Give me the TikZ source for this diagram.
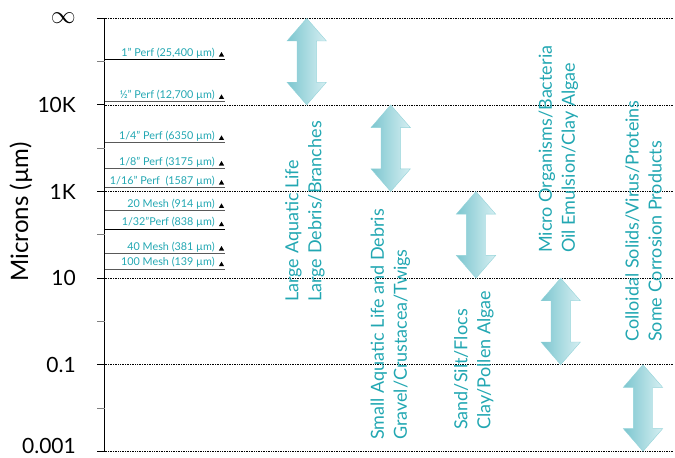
\documentclass[tikz,border=0pt]{standalone}
\usepackage{fontspec}
\setmainfont{Lato}
\usepackage{tikz}
\usetikzlibrary{positioning}
\usetikzlibrary{shapes,arrows}
\definecolor{tealtext}{HTML}{22A7B2}
\definecolor{arrowdark}{HTML}{7CC6CF}
\definecolor{arrowlight}{HTML}{D6EFF2}
\definecolor{arrowedge}{HTML}{93D3D9}
\tikzstyle{axisline} = [black, line width=1pt]
\tikzstyle{majortick} = [black, line width=1pt]
\tikzstyle{minortick} = [gray, line width=1pt]
\tikzstyle{gridline} = [densely dotted, black, line width=0.7pt]
\tikzstyle{perfline} = [gray!70!black, line width=1pt]
\tikzstyle{perflabel} = [tealtext, anchor=base east, inner sep=0pt, font=\fontsize{10.8}{11}\selectfont]
\tikzstyle{perftip} = [regular polygon, regular polygon sides=3, fill=black, inner sep=0pt, minimum size=6pt]
\tikzstyle{ticklabel} = [anchor=east, inner sep=0pt, font=\fontsize{21}{21}\selectfont]
\tikzstyle{rangearrow} = [double arrow, rotate=90, draw=arrowedge, left color=arrowdark, right color=arrowlight, inner xsep=0pt, inner ysep=9.5pt, minimum height=86.6pt, minimum width=39pt, double arrow head extend=10pt, double arrow tip angle=82]
\tikzstyle{rangelabel} = [tealtext, rotate=90, anchor=west, align=left, inner sep=0pt, font=\fontsize{18}{23}\selectfont]

\begin{document}
\begin{tikzpicture}[x=1pt, y=-1pt]
\useasboundingbox (0,0) rectangle (675,458);
%% axis
\coordinate (axtop) at (104.5,18.3);
\coordinate (axbot) at (104.5,451.3);
\draw[axisline] (axtop) -- (axbot);
\node[ticklabel, rotate=90, anchor=center, font=\fontsize{24}{24}\selectfont] (axtitle) at (21,212) {Microns (µm)};

%% major ticks, labels and grid
\draw[majortick] (97,18.3) -- (104.5,18.3);
\draw[majortick] (97,104.9) -- (104.5,104.9);
\draw[majortick] (97,191.5) -- (104.5,191.5);
\draw[majortick] (97,278.1) -- (104.5,278.1);
\draw[majortick] (97,364.7) -- (104.5,364.7);
\draw[majortick] (97,451.3) -- (104.5,451.3);
\node[ticklabel, font=\fontsize{27}{27}\selectfont] (tinf) at (76,18) {$\infty$};
\node[ticklabel] (t10k) at (76,104.9) {10K};
\node[ticklabel] (t1k) at (76,191.5) {1K};
\node[ticklabel] (t10) at (76,278.1) {10};
\node[ticklabel] (t01) at (76,364.7) {0.1};
\node[ticklabel] (t0001) at (76,446) {0.001};
\draw[gridline] (104.5,18.3) -- (673,18.3);
\draw[gridline] (104.5,104.9) -- (673,104.9);
\draw[gridline] (104.5,191.5) -- (673,191.5);
\draw[gridline] (104.5,278.1) -- (673,278.1);
\draw[gridline] (104.5,364.7) -- (673,364.7);
\draw[gridline] (104.5,451.3) -- (673,451.3);

%% minor ticks
\draw[minortick] (97,61.6) -- (104.5,61.6);
\draw[minortick] (97,148.2) -- (104.5,148.2);
\draw[minortick] (97,234.8) -- (104.5,234.8);
\draw[minortick] (97,321.4) -- (104.5,321.4);
\draw[minortick] (97,408) -- (104.5,408);

%% perforations and meshes
\draw[perfline, black] (104.5,59.3) -- (225,59.3);
\node[perflabel] (perf1) at (215,56) {1” Perf (25,400 µm)};
\node[perftip] (tip1) at (221.5,55) {};
\draw[perfline] (104.5,101.7) -- (225,101.7);
\node[perflabel] (perf2) at (215,98.4) {½” Perf (12,700 µm)};
\node[perftip] (tip2) at (221.5,97.4) {};
\draw[perfline] (104.5,142.7) -- (225,142.7);
\node[perflabel] (perf3) at (215,139.4) {1/4” Perf (6350 µm)};
\node[perftip] (tip3) at (221.5,138.4) {};
\draw[perfline] (104.5,168.3) -- (225,168.3);
\node[perflabel] (perf4) at (215,165) {1/8” Perf (3175 µm)};
\node[perftip] (tip4) at (221.5,164) {};
\draw[perfline] (104.5,187.3) -- (225,187.3);
\node[perflabel] (perf5) at (215,184) {1/16” Perf\ \ (1587 µm)};
\node[perftip] (tip5) at (221.5,183) {};
\draw[perfline] (104.5,210.7) -- (225,210.7);
\node[perflabel] (mesh1) at (215,207.4) {20 Mesh (914 µm)};
\node[perftip] (tip6) at (221.5,206.4) {};
\draw[perfline, black] (104.5,229) -- (225,229);
\node[perflabel] (perf6) at (215,225.7) {1/32”Perf (838 µm)};
\node[perftip] (tip7) at (221.5,224.7) {};
\draw[perfline] (104.5,253.3) -- (225,253.3);
\node[perflabel] (mesh2) at (215,250) {40 Mesh (381 µm)};
\node[perftip] (tip8) at (221.5,249) {};
\draw[perfline] (104.5,269) -- (225,269);
\node[perflabel] (mesh3) at (215,265.7) {100 Mesh (139 µm)};
\node[perftip] (tip9) at (221.5,264.7) {};

%% size ranges
\node[rangearrow] (range1) at (306.7,61.6) {};
\node[rangelabel] (debris1) at (305,302) {Large Aquatic Life\\Large Debris/Branches};
\node[rangearrow] (range2) at (390.7,148.2) {};
\node[rangelabel] (debris2) at (390.5,440) {Small Aquatic Life and Debris\\Gravel/Crustacea/Twigs};
\node[rangearrow] (range3) at (476,234.8) {};
\node[rangelabel] (sand) at (474,430) {Sand/Silt/Flocs\\Clay/Pollen Algae};
\node[rangearrow] (range4) at (560.7,321.4) {};
\node[rangelabel] (micro) at (558.5,253) {Micro Organisms/Bacteria\\Oil Emulsion/Clay Algae};
\node[rangearrow] (range5) at (643,408) {};
\node[rangelabel] (colloid) at (643.5,342) {Colloidal Solids/Virus/Proteins\\Some Corrosion Products};
\end{tikzpicture}
\end{document}
